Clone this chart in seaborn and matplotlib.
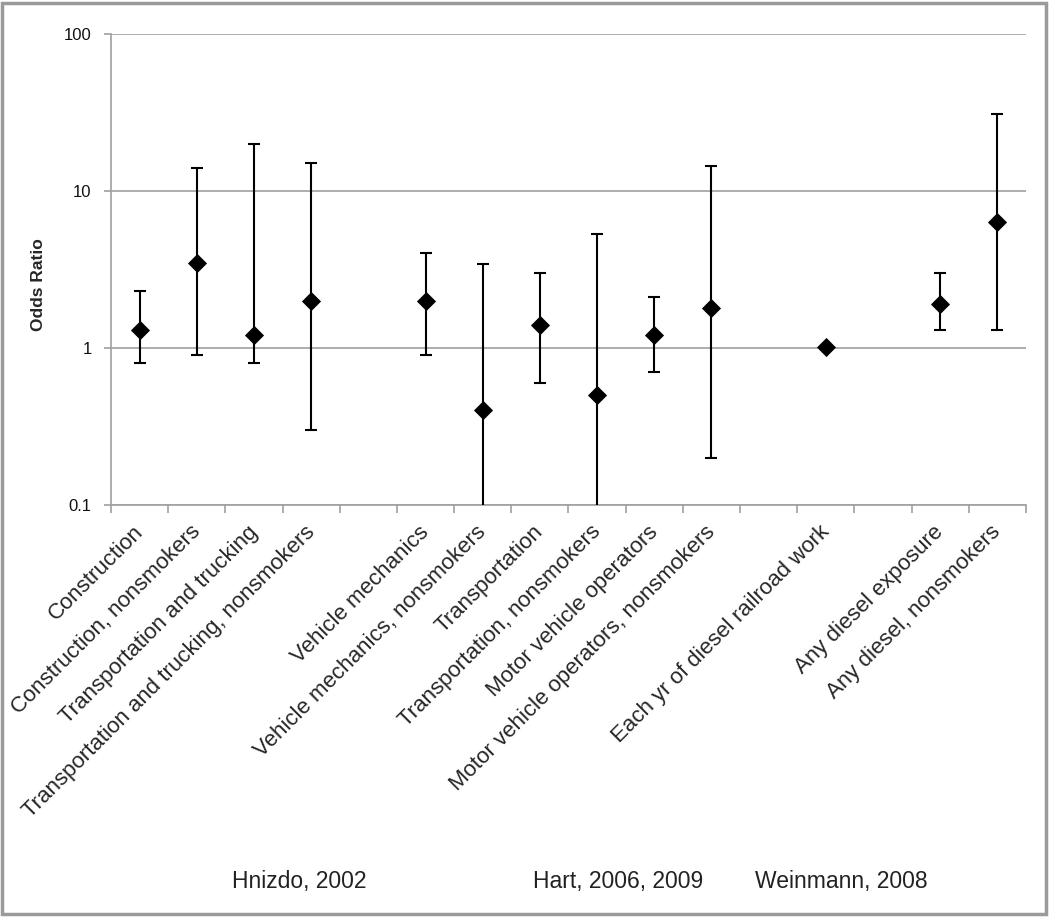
import numpy as np
import pandas as pd
import matplotlib
matplotlib.use("Agg")
import matplotlib.pyplot as plt
import seaborn as sns
from matplotlib.patches import Rectangle
from matplotlib.transforms import ScaledTranslation

# categories (blank slots separate the studies)
labels = ["Construction", "Construction, nonsmokers", "Transportation and trucking",
          "Transportation and trucking, nonsmokers", "",
          "Vehicle mechanics", "Vehicle mechanics, nonsmokers", "Transportation",
          "Transportation, nonsmokers", "Motor vehicle operators",
          "Motor vehicle operators, nonsmokers", "",
          "Each yr of diesel railroad work", "",
          "Any diesel exposure", "Any diesel, nonsmokers"]
odds = [1.3, 3.5, 1.2, 2.0, np.nan, 2.0, 0.4, 1.4, 0.5, 1.2, 1.8, np.nan, 1.02, np.nan, 1.9, 6.3]
lower = [0.8, 0.9, 0.8, 0.3, np.nan, 0.9, 0.05, 0.6, 0.05, 0.7, 0.2, np.nan, 1.01, np.nan, 1.3, 1.3]
upper = [2.3, 14, 20, 15, np.nan, 4.0, 3.4, 3.0, 5.3, 2.1, 14.5, np.nan, 1.03, np.nan, 3.0, 31]
studies = ["Hnizdo, 2002", "Hart, 2006, 2009", "Weinmann, 2008"]
study_centers = [2.8, 8.36, 12.27]

df = pd.DataFrame({"pos": np.arange(len(labels)), "label": labels,
                   "odds": odds, "lower": lower, "upper": upper})
df_pts = df.dropna()

sns.set_style("white")
plt.rcParams["font.family"] = ["Liberation Sans", "DejaVu Sans"]

fig = plt.figure(figsize=(10.5, 9.18), dpi=100)
ax = fig.add_axes([0.1057, 0.450, 0.8714, 0.513])

ax.set_yscale("log")
ax.set_ylim(0.1, 100)
ax.set_xlim(-0.5, len(labels) - 0.5)

# error bars
has_err = df_pts[df_pts["upper"] - df_pts["lower"] > 0.05]
ax.errorbar(has_err["pos"], has_err["odds"],
            yerr=[has_err["odds"] - has_err["lower"], has_err["upper"] - has_err["odds"]],
            fmt="none", ecolor="black", elinewidth=1.5, capsize=4, capthick=1.5, zorder=3)

sns.scatterplot(data=df_pts, x="pos", y="odds", marker="D", s=95, color="black",
                edgecolor="black", linewidth=0, ax=ax, zorder=4)

# gridlines
ax.yaxis.grid(True, color="#a0a0a0", linewidth=1.2)
ax.set_axisbelow(True)
for s in ["top", "right"]:
    ax.spines[s].set_visible(False)
for s in ["left", "bottom"]:
    ax.spines[s].set_color("#a0a0a0")
    ax.spines[s].set_linewidth(1.2)

ax.set_yticks([0.1, 1, 10, 100])
ax.set_yticklabels(["0.1", "1", "10", "100"])
ax.yaxis.set_minor_locator(matplotlib.ticker.NullLocator())
ax.tick_params(axis="y", which="major", length=5, color="#a0a0a0", width=1.2,
               labelsize=12, pad=9, left=True, labelcolor="#111111")

# category labels at slot centers, ticks at slot boundaries
ax.set_xticks(df["pos"])
ax.set_xticklabels(labels, rotation=45, ha="right", rotation_mode="anchor",
                   fontsize=16)
ax.tick_params(axis="x", which="major", length=0, pad=12)
shift = ScaledTranslation(-7 / 100, 0, fig.dpi_scale_trans)
for lbl in ax.get_xticklabels():
    lbl.set_transform(lbl.get_transform() + shift)
ax.set_xticks(np.arange(len(labels) + 1) - 0.5, minor=True)
ax.tick_params(axis="x", which="minor", length=6, color="#a0a0a0", width=1.2,
               bottom=True)

ax.set_xlabel("")
ax.set_ylabel("Odds Ratio", fontsize=12.5, fontweight="bold")
ax.yaxis.set_label_coords(-0.071, 0.467)

# study names below the labels
for name, c in zip(studies, study_centers):
    ax.text(c, -0.80, name, transform=ax.get_xaxis_transform(),
            ha="center", va="center", fontsize=16.5, color="#222222")

# frame around the figure
fig.patches.append(Rectangle((0.002, 0.004), 0.994, 0.993, transform=fig.transFigure,
                             fill=False, edgecolor="#9a9a9a", linewidth=2.5))

fig.savefig("out.png", dpi=100)
